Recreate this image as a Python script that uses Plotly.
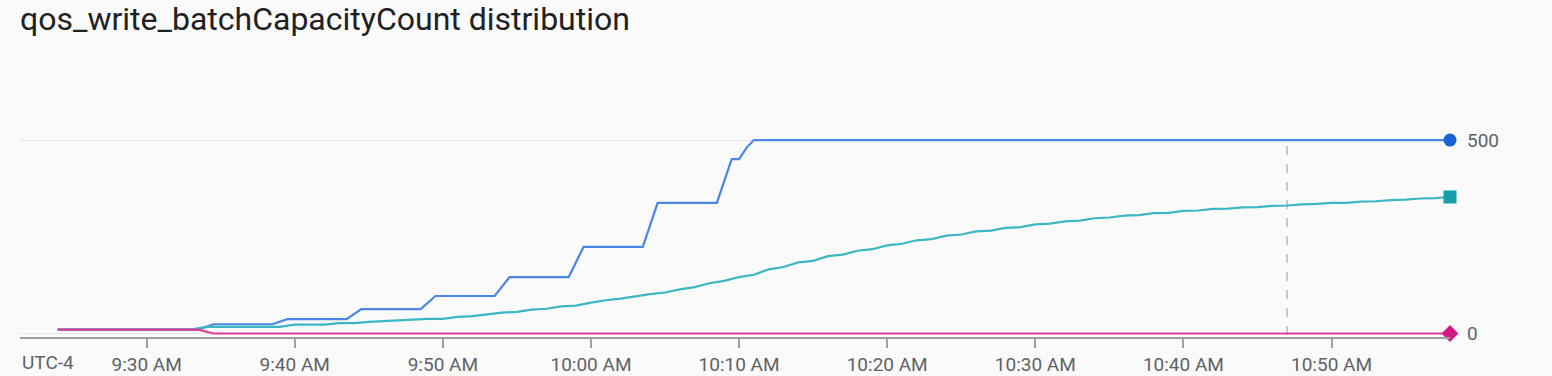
import plotly.graph_objects as go
import pandas as pd

DAY = "2024-01-01 "

# Blue series (upper line) - vertices
blue_t = ["09:24:00", "09:33:30", "09:34:30", "09:38:30", "09:39:30", "09:43:30", "09:44:30",
          "09:48:30", "09:49:30", "09:53:30", "09:54:30", "09:58:30", "09:59:30", "10:03:30",
          "10:04:30", "10:08:30", "10:09:30", "10:10:00", "10:10:30", "10:11:00", "10:58:00"]
blue_v = [10, 10, 24, 24, 37, 37, 63, 63, 97, 97, 146, 146, 224, 224, 338, 338, 451, 451, 480, 500, 500]

# Teal series (middle line) - one value per minute, 09:24 .. 10:58
teal_start, teal_end = "09:24", "10:58"
teal_v = [10, 10, 10, 10, 10, 10, 10, 10, 10, 10,            # 09:24-09:33
          17, 17, 17, 17, 17, 17, 23, 23, 23, 27,            # 09:34-09:43
          27, 30, 32, 33, 35, 38, 38, 43, 45, 50,            # 09:44-09:53
          54, 56, 62, 64, 70, 72, 80, 86, 90, 96,            # 09:54-10:03
          102, 106, 114, 120, 130, 136, 146, 152, 166, 172,  # 10:04-10:13
          184, 188, 200, 204, 214, 218, 228, 232, 241, 244,  # 10:14-10:23
          253, 256, 264, 266, 273, 275, 282, 284, 290, 292,  # 10:24-10:33
          298, 300, 305, 306, 311, 312, 317, 318, 322, 323,  # 10:34-10:43
          326, 327, 330, 331, 334, 335, 338, 338, 341, 342,  # 10:44-10:53
          345, 346, 349, 350, 353]                           # 10:54-10:58

# Pink series (lower line) - vertices
pink_t = ["09:24:00", "09:33:30", "09:34:30", "10:58:00"]
pink_v = [10, 10, 0, 0]

tick_t = ["09:30", "09:40", "09:50", "10:00", "10:10", "10:20", "10:30", "10:40", "10:50"]
tick_labels = ["9:30 AM", "9:40 AM", "9:50 AM", "10:00 AM", "10:10 AM", "10:20 AM", "10:30 AM",
               "10:40 AM", "10:50 AM"]
y_ticks = [0, 500]
y_labels = ["0", "500"]
cursor_t = "10:47:00"

x_range = ["09:21:27", "10:58:00"]
y_range = [-9, 552]

FONT = "Roboto"

def ts(lst):
    return [DAY + t for t in lst]

teal_x = list(pd.date_range(DAY + teal_start, DAY + teal_end, freq="1min"))

fig = go.Figure()

def add_series(x, v, line_color, marker_color, symbol):
    fig.add_trace(go.Scatter(x=x, y=v, mode="lines",
                             line=dict(color=line_color, width=2.2), hoverinfo="skip",
                             showlegend=False))
    fig.add_trace(go.Scatter(x=[x[-1]], y=[v[-1]], mode="markers",
                             marker=dict(color=marker_color, size=13, symbol=symbol,
                                         line=dict(width=0)),
                             cliponaxis=False, hoverinfo="skip", showlegend=False))

add_series(ts(blue_t), blue_v, "#4a86e8", "#1a62d6", "circle")
add_series(teal_x, teal_v, "#3bb7c3", "#169eab", "square")
add_series(ts(pink_t), pink_v, "#e0399a", "#d11a86", "diamond")

fig.add_shape(type="line", xref="x", yref="y", x0=DAY + cursor_t, x1=DAY + cursor_t,
              y0=-4, y1=500, line=dict(color="#c8c8c8", width=2, dash="dash"), layer="below")

fig.add_annotation(text="UTC-4", xref="paper", yref="paper", x=0, y=0, xanchor="left",
                   yanchor="top", yshift=-12, showarrow=False,
                   font=dict(family=FONT, size=19, color="#5f6368"))

fig.update_layout(
    width=1552, height=376,
    margin=dict(l=20, r=102, t=120, b=39),
    paper_bgcolor="#fafafa", plot_bgcolor="#fafafa",
    title=dict(text="qos_write_batchCapacityCount distribution", x=0, xref="paper",
               xanchor="left", y=1 - 19 / 376, yref="container", yanchor="middle",
               pad=dict(t=0, l=0, b=0),
               font=dict(family=FONT, size=32, color="#202124")),
    xaxis=dict(type="date", range=ts(x_range), tickvals=ts(tick_t), ticktext=tick_labels,
               automargin=False,
               showgrid=False, zeroline=False, showline=True, linecolor="#9aa0a6", linewidth=2,
               ticks="outside", ticklen=9, tickwidth=1.5, tickcolor="#9aa0a6",
               tickfont=dict(family=FONT, size=19, color="#5f6368")),
    yaxis=dict(range=y_range, side="right", tickvals=y_ticks, ticktext=y_labels,
               automargin=False,
               showgrid=True, gridcolor="#e8e8e8", gridwidth=1, zeroline=False,
               showline=False, ticks="", ticklabelstandoff=16,
               tickfont=dict(family=FONT, size=19, color="#5f6368")),
)

fig.write_html("out.html")
